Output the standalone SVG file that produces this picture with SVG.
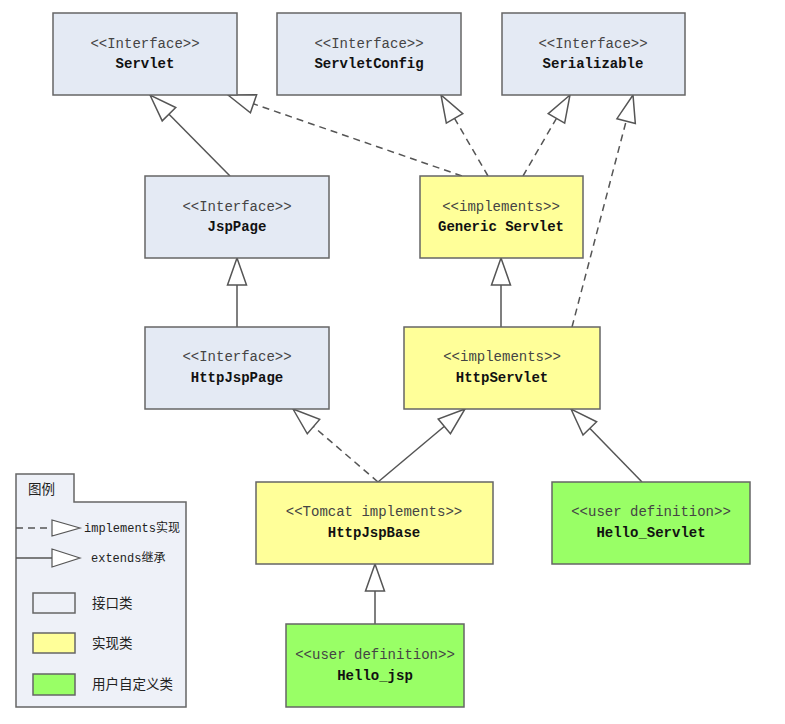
<svg xmlns="http://www.w3.org/2000/svg" width="785" height="724" viewBox="0 0 785 724">
<style>
.box{stroke:#666;stroke-width:1.5}
.if{fill:#e4eaf4}
.im{fill:#ffff99}
.us{fill:#99ff66}
.st{font-family:"Liberation Mono","Noto Sans CJK SC",monospace;font-size:14px;fill:#444;text-anchor:middle}
.nm{font-family:"Liberation Mono","Noto Sans CJK SC",monospace;font-size:14px;font-weight:bold;fill:#111;text-anchor:middle}
.ln{stroke:#555;stroke-width:1.5;fill:none}
.da{stroke-dasharray:7,5}
.lg{font-family:"Liberation Mono","Noto Sans CJK SC",monospace;font-size:12px;fill:#222}
.lc{font-family:"Noto Sans CJK SC",sans-serif;font-size:13.5px;fill:#222}
</style>
<defs>
<marker id="tri" markerUnits="userSpaceOnUse" markerWidth="30" markerHeight="22" viewBox="0 0 30 22" refX="28" refY="11" orient="auto" overflow="visible">
<path d="M28,11 L1,1.5 L1,20.5 Z" fill="#fff" stroke="#555" stroke-width="1.5"/>
</marker>
</defs>
<rect width="785" height="724" fill="#fff"/>

<g id="connectors">
<line class="ln" x1="230" y1="176" x2="150" y2="95" marker-end="url(#tri)"/>
<line class="ln da" x1="462" y1="176" x2="228" y2="95" marker-end="url(#tri)"/>
<line class="ln da" x1="488" y1="176" x2="441" y2="95" marker-end="url(#tri)"/>
<line class="ln da" x1="523" y1="176" x2="570" y2="95" marker-end="url(#tri)"/>
<line class="ln da" x1="572" y1="327" x2="633" y2="95" marker-end="url(#tri)"/>
<line class="ln" x1="237" y1="327" x2="237" y2="258" marker-end="url(#tri)"/>
<line class="ln" x1="501" y1="327" x2="501" y2="258" marker-end="url(#tri)"/>
<line class="ln da" x1="378" y1="482" x2="293" y2="409" marker-end="url(#tri)"/>
<line class="ln" x1="378" y1="482" x2="465" y2="409" marker-end="url(#tri)"/>
<line class="ln" x1="642" y1="482" x2="571" y2="409" marker-end="url(#tri)"/>
<line class="ln" x1="375" y1="624" x2="375" y2="564" marker-end="url(#tri)"/>
</g>

<g id="servlet"><rect class="box if" x="53" y="13" width="184" height="82"/><text class="st" x="145" y="48">&lt;&lt;Interface&gt;&gt;</text><text class="nm" x="145" y="68">Servlet</text></g>
<g id="servletconfig"><rect class="box if" x="277" y="13" width="184" height="82"/><text class="st" x="369" y="48">&lt;&lt;Interface&gt;&gt;</text><text class="nm" x="369" y="68">ServletConfig</text></g>
<g id="serializable"><rect class="box if" x="502" y="13" width="183" height="82"/><text class="st" x="593" y="48">&lt;&lt;Interface&gt;&gt;</text><text class="nm" x="593" y="68">Serializable</text></g>
<g id="jsppage"><rect class="box if" x="145" y="176" width="184" height="82"/><text class="st" x="237" y="211">&lt;&lt;Interface&gt;&gt;</text><text class="nm" x="237" y="231">JspPage</text></g>
<g id="genericservlet"><rect class="box im" x="420" y="176" width="163" height="82"/><text class="st" x="501" y="211">&lt;&lt;implements&gt;&gt;</text><text class="nm" x="501" y="231">Generic Servlet</text></g>
<g id="httpjsppage"><rect class="box if" x="145" y="327" width="184" height="82"/><text class="st" x="237" y="361">&lt;&lt;Interface&gt;&gt;</text><text class="nm" x="237" y="382">HttpJspPage</text></g>
<g id="httpservlet"><rect class="box im" x="404" y="327" width="196" height="82"/><text class="st" x="502" y="361">&lt;&lt;implements&gt;&gt;</text><text class="nm" x="502" y="382">HttpServlet</text></g>
<g id="httpjspbase"><rect class="box im" x="256" y="482" width="237" height="82"/><text class="st" x="374" y="516">&lt;&lt;Tomcat implements&gt;&gt;</text><text class="nm" x="374" y="537">HttpJspBase</text></g>
<g id="hello_servlet"><rect class="box us" x="552" y="482" width="198" height="82"/><text class="st" x="651" y="516">&lt;&lt;user definition&gt;&gt;</text><text class="nm" x="651" y="537">Hello_Servlet</text></g>
<g id="hello_jsp"><rect class="box us" x="286" y="624" width="178" height="83"/><text class="st" x="375" y="659">&lt;&lt;user definition&gt;&gt;</text><text class="nm" x="375" y="680">Hello_jsp</text></g>

<g id="legend">
<path d="M16,474 H74 V502 H186 V707 H16 Z" fill="#eef1f8" stroke="#666" stroke-width="1.5"/>
<text class="lc" x="28" y="494">图例</text>
<line class="ln da" x1="16" y1="528" x2="52" y2="528"/>
<path d="M80,528 L52,520 L52,536 Z" fill="#fff" stroke="#555" stroke-width="1.2"/>
<text class="lg" x="84" y="532">implements实现</text>
<line class="ln" x1="16" y1="558" x2="52" y2="558"/>
<path d="M80,558 L52,549 L52,567 Z" fill="#fff" stroke="#555" stroke-width="1.2"/>
<text class="lg" x="91" y="562">extends继承</text>
<rect class="box" x="33" y="593" width="42" height="20" fill="#eef1f8"/>
<text class="lc" x="92" y="608">接口类</text>
<rect class="box im" x="33" y="633" width="42" height="20"/>
<text class="lc" x="92" y="648">实现类</text>
<rect class="box us" x="33" y="674" width="42" height="21"/>
<text class="lc" x="92" y="689">用户自定义类</text>
</g>
</svg>
